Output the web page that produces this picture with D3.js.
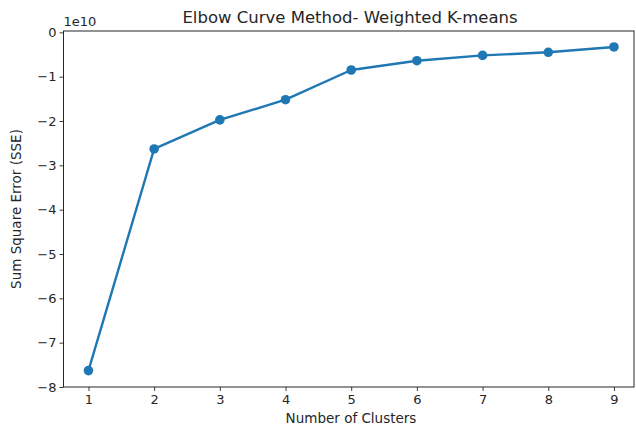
<!DOCTYPE html>
<html>
<head>
<meta charset="utf-8">
<script src="https://cdn.jsdelivr.net/npm/d3@7"></script>
<style>
  html, body { margin: 0; padding: 0; background: #fff; }
  svg { display: block; font-family: "DejaVu Sans", sans-serif; }
</style>
</head>
<body>
<svg id="chart" width="636" height="427"></svg>
<script>
// Number of clusters (k) tried
const clusters = [1, 2, 3, 4, 5, 6, 7, 8, 9];
// SSE for each k, in units of 1e10
const sse = [-7.63, -2.63, -1.975, -1.52, -0.85, -0.64, -0.52, -0.45, -0.33];
const xTicks = [1, 2, 3, 4, 5, 6, 7, 8, 9];
const yTicks = [0, -1, -2, -3, -4, -5, -6, -7, -8];

const svg = d3.select("#chart");
const plotL = 63.5, plotR = 634, plotT = 31, plotB = 387;
const ink = "#262626";
const tickFont = "13px";

const x = d3.scaleLinear().domain([0.62, 9.305]).range([plotL, plotR]);
const y = d3.scaleLinear().domain([-8, 0.03]).range([plotB, plotT]);

// axes frame
svg.append("rect")
  .attr("x", plotL).attr("y", plotT)
  .attr("width", plotR - plotL).attr("height", plotB - plotT)
  .attr("fill", "none").attr("stroke", ink).attr("stroke-width", 1);

const fmt = d => (d < 0 ? "\u2212" + Math.abs(d) : String(d));

const xAxis = svg.append("g")
  .attr("transform", `translate(0,${plotB})`)
  .call(d3.axisBottom(x).tickValues(xTicks).tickSize(4).tickPadding(3.5).tickFormat(fmt));
const yAxis = svg.append("g")
  .attr("transform", `translate(${plotL},0)`)
  .call(d3.axisLeft(y).tickValues(yTicks).tickSize(4).tickPadding(3).tickFormat(fmt));

[xAxis, yAxis].forEach(g => {
  g.select(".domain").remove();
  g.selectAll(".tick line").attr("stroke", ink).attr("stroke-width", 0.9);
  g.selectAll(".tick text").attr("fill", ink)
    .style("font-family", "DejaVu Sans, sans-serif").style("font-size", tickFont);
});

// offset text for the y scale
svg.append("text").attr("x", plotL).attr("y", 26)
  .attr("fill", ink).style("font-size", tickFont).text("1e10");

// title and axis labels
svg.append("text").attr("x", 350).attr("y", 23)
  .attr("text-anchor", "middle").attr("fill", ink)
  .style("font-size", "16.5px").text("Elbow Curve Method- Weighted K-means");

svg.append("text").attr("x", 351).attr("y", 423)
  .attr("text-anchor", "middle").attr("fill", ink)
  .style("font-size", "13.5px").text("Number of Clusters");

svg.append("text")
  .attr("transform", `translate(21,${(plotT + plotB) / 2}) rotate(-90)`)
  .attr("text-anchor", "middle").attr("fill", ink)
  .style("font-size", "13.5px").text("Sum Square Error (SSE)");

// the elbow curve
const pts = clusters.map((k, i) => [k, sse[i]]);
const color = "#1f77b4";
svg.append("path").datum(pts)
  .attr("fill", "none").attr("stroke", color).attr("stroke-width", 2.4)
  .attr("stroke-linejoin", "round")
  .attr("d", d3.line().x(d => x(d[0])).y(d => y(d[1])));

svg.selectAll("circle.pt").data(pts).join("circle")
  .attr("class", "pt")
  .attr("cx", d => x(d[0])).attr("cy", d => y(d[1]))
  .attr("r", 4.8).attr("fill", color);
</script>
</body>
</html>
